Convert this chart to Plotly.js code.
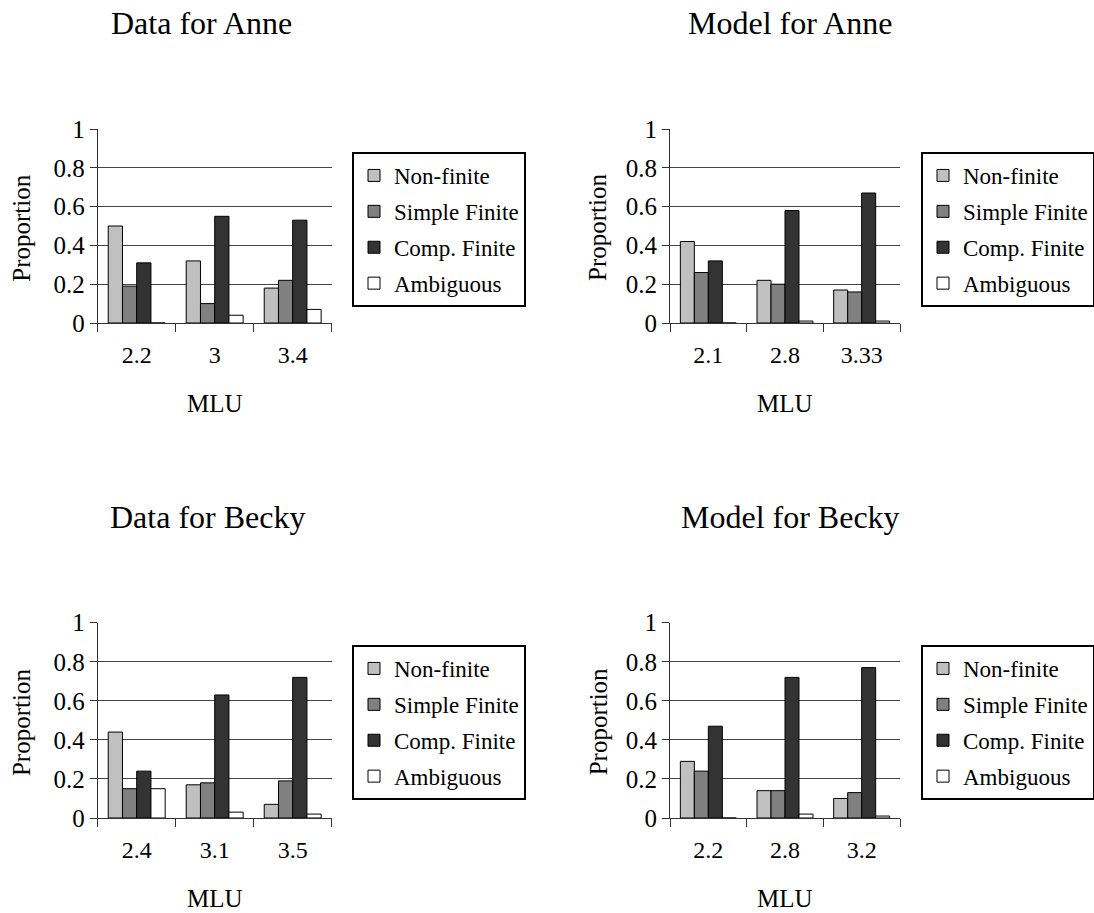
<!DOCTYPE html>
<html>
<head>
<meta charset="utf-8">
<script src="https://cdn.plot.ly/plotly-3.0.1.min.js"></script>
<style>html,body{margin:0;padding:0;background:#fff;}#chart{width:1094px;height:913px;}</style>
</head>
<body>
<div id="chart"></div>
<script>
// ---- data ----
const seriesNames = ['Non-finite', 'Simple Finite', 'Comp. Finite', 'Ambiguous'];
const seriesColors = ['#c0c0c0', '#808080', '#333333', '#ffffff'];

const panelTitles = ['Data for Anne', 'Model for Anne', 'Data for Becky', 'Model for Becky'];

const mluAnneData = ['2.2', '3', '3.4'];
const mluAnneModel = ['2.1', '2.8', '3.33'];
const mluBeckyData = ['2.4', '3.1', '3.5'];
const mluBeckyModel = ['2.2', '2.8', '3.2'];

const anneDataNonFinite = [0.50, 0.32, 0.18];
const anneDataSimple = [0.19, 0.10, 0.22];
const anneDataComp = [0.31, 0.55, 0.53];
const anneDataAmbig = [0.00, 0.04, 0.07];

const anneModelNonFinite = [0.42, 0.22, 0.17];
const anneModelSimple = [0.26, 0.20, 0.16];
const anneModelComp = [0.32, 0.58, 0.67];
const anneModelAmbig = [0.00, 0.01, 0.01];

const beckyDataNonFinite = [0.44, 0.17, 0.07];
const beckyDataSimple = [0.15, 0.18, 0.19];
const beckyDataComp = [0.24, 0.63, 0.72];
const beckyDataAmbig = [0.15, 0.03, 0.02];

const beckyModelNonFinite = [0.29, 0.14, 0.10];
const beckyModelSimple = [0.24, 0.14, 0.13];
const beckyModelComp = [0.47, 0.72, 0.77];
const beckyModelAmbig = [0.00, 0.02, 0.01];

const yTickVals = [0, 0.2, 0.4, 0.6, 0.8, 1];
const yTickText = ['0', '0.2', '0.4', '0.6', '0.8', '1'];
const yLabel = 'Proportion';
const xLabel = 'MLU';

// ---- build ----
const panels = [
  {mlu: mluAnneData, vals: [anneDataNonFinite, anneDataSimple, anneDataComp, anneDataAmbig]},
  {mlu: mluAnneModel, vals: [anneModelNonFinite, anneModelSimple, anneModelComp, anneModelAmbig]},
  {mlu: mluBeckyData, vals: [beckyDataNonFinite, beckyDataSimple, beckyDataComp, beckyDataAmbig]},
  {mlu: mluBeckyModel, vals: [beckyModelNonFinite, beckyModelSimple, beckyModelComp, beckyModelAmbig]}
];

const FONT = 'Liberation Serif, Times New Roman, serif';
const W = 1094, H = 913;
const px = v => v / W;
const py = v => 1 - v / H;

// pixel geometry of plot areas
const colX = [[97.7, 331.7], [670, 900]];
const rowY = [[129, 323], [622.7, 818]];
const legendLeft = [352, 921];
const legendTop = [152, 645];
const titlePos = [[201, 23], [790, 23], [207, 517], [790, 517]];
const ylabX = [21.7, 598];

const traces = [];
const layout = {
  width: W, height: H,
  margin: {l: 0, r: 0, t: 0, b: 0, autoexpand: false},
  paper_bgcolor: '#fff', plot_bgcolor: 'rgba(0,0,0,0)',
  barmode: 'group', bargap: 0.27, bargroupgap: 0,
  font: {family: FONT, color: '#000'},
  annotations: [],
  showlegend: true
};

panels.forEach((p, i) => {
  const sfx = i === 0 ? '' : String(i + 1);
  const col = i % 2, row = Math.floor(i / 2);
  p.vals.forEach((v, s) => {
    traces.push({
      type: 'bar',
      x: p.mlu, y: v,
      name: seriesNames[s],
      xaxis: 'x' + sfx, yaxis: 'y' + sfx,
      legend: 'legend' + sfx,
      legendgroup: 'g' + i + '_' + s,
      marker: {color: seriesColors[s], line: {color: '#000', width: 1}},
      hoverinfo: 'x+y+name'
    });
  });
  layout['xaxis' + sfx] = {
    domain: [px(colX[col][0]), px(colX[col][1])],
    anchor: 'y' + sfx,
    type: 'category',
    showline: true, linecolor: '#333', linewidth: 1,
    ticks: 'outside', tickson: 'boundaries', ticklen: 8, tickcolor: '#333', tickwidth: 1,
    ticklabelstandoff: 10,
    showgrid: false, zeroline: false,
    tickfont: {family: FONT, size: 24, color: '#000'},
    fixedrange: true
  };
  layout['yaxis' + sfx] = {
    domain: [py(rowY[row][1]), py(rowY[row][0])],
    anchor: 'x' + sfx,
    range: [0, 1],
    tickmode: 'array', tickvals: yTickVals, ticktext: yTickText,
    showline: true, linecolor: '#333', linewidth: 1,
    ticks: 'outside', ticklen: 7, tickcolor: '#333', tickwidth: 1,
    showgrid: false, zeroline: false,
    minor: {tickmode: 'array', tickvals: [0.2, 0.4, 0.6, 0.8], showgrid: true, gridcolor: '#444', gridwidth: 1, ticks: ''},
    tickfont: {family: FONT, size: 25, color: '#000'},
    fixedrange: true
  };
  layout['legend' + sfx] = {
    x: px(legendLeft[col]), y: py(legendTop[row]),
    xanchor: 'left', yanchor: 'top',
    bordercolor: '#000', borderwidth: 2, bgcolor: '#fff',
    font: {family: FONT, size: 23, color: '#000'},
    traceorder: 'grouped', tracegroupgap: 3,
    itemclick: false, itemdoubleclick: false
  };
  // panel title
  layout.annotations.push({
    text: panelTitles[i], xref: 'paper', yref: 'paper',
    x: px(titlePos[i][0]), y: py(titlePos[i][1]),
    xanchor: 'center', yanchor: 'middle', showarrow: false,
    font: {family: FONT, size: 32, color: '#000'}
  });
  // y axis label
  layout.annotations.push({
    text: yLabel, xref: 'paper', yref: 'paper',
    x: px(ylabX[col]), y: py((rowY[row][0] + rowY[row][1]) / 2 + 2),
    xanchor: 'center', yanchor: 'middle', showarrow: false, textangle: -90,
    font: {family: FONT, size: 25, color: '#000'}
  });
  // x axis label
  layout.annotations.push({
    text: xLabel, xref: 'paper', yref: 'paper',
    x: px((colX[col][0] + colX[col][1]) / 2), y: py(rowY[row][1] + 80),
    xanchor: 'center', yanchor: 'middle', showarrow: false,
    font: {family: FONT, size: 25, color: '#000'}
  });
});

Plotly.newPlot('chart', traces, layout, {displayModeBar: false, staticPlot: false});
</script>
</body>
</html>
